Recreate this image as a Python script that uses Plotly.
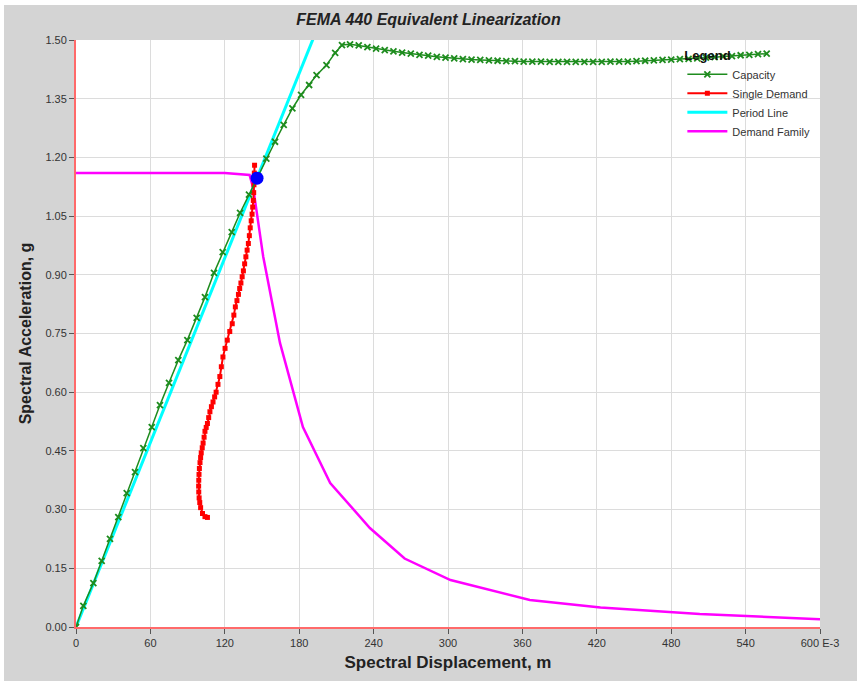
import plotly.graph_objects as go

# ---------------- data ----------------
cap_x = [0, 5.9, 14.0, 20.7, 27.4, 34.1, 40.9, 47.6, 54.3, 61.1, 67.7, 75.0, 82.5, 89.8, 97.3,
         104.0, 111.3, 118.3, 125.6, 132.3, 139.5, 146.5, 153.5, 160.5, 167.5, 174.5, 181.5,
         188, 194, 202, 209, 214.5,
         221, 228, 235, 242, 249, 256, 263, 270, 277, 284, 291, 298, 305, 312, 319, 326, 333,
         340, 347, 354, 361, 368, 375, 382, 389, 396, 403, 410, 417, 424, 431, 438, 445, 452,
         459, 466, 473, 480, 487, 494, 501, 508, 515, 522, 529, 536, 543, 550, 557]
cap_y = [0, 0.054, 0.112, 0.169, 0.225, 0.281, 0.342, 0.396, 0.457, 0.511, 0.567, 0.624, 0.682,
         0.733, 0.790, 0.843, 0.905, 0.958, 1.009, 1.058, 1.105, 1.152, 1.197, 1.240, 1.283,
         1.325, 1.360, 1.385, 1.410, 1.436, 1.467, 1.487,
         1.489, 1.486, 1.482, 1.478, 1.474, 1.471, 1.468, 1.465, 1.462, 1.460, 1.457, 1.455,
         1.453, 1.451, 1.450, 1.449, 1.448, 1.447, 1.446, 1.446, 1.445, 1.445, 1.445, 1.444,
         1.444, 1.444, 1.444, 1.444, 1.444, 1.444, 1.445, 1.445, 1.445, 1.446, 1.447, 1.448,
         1.449, 1.450, 1.451, 1.452, 1.453, 1.455, 1.456, 1.458, 1.459, 1.461, 1.462, 1.464,
         1.465]

sd_x = [106, 104, 102, 100.5, 99.8, 99.3, 99.0, 98.9, 99.0, 99.2, 99.5, 100, 100.5, 101,
        101.8, 102.5, 103.3, 104, 105, 106, 107, 108, 109.2, 110.5, 111.8, 113, 114.5, 116,
        117.2, 118.5, 120.2, 122, 124, 126, 127.3, 128.5, 129.8, 131, 132, 133, 134, 135, 136,
        137, 138, 139, 139.8, 140.5, 141.3, 142, 142.5, 143, 143.3, 143.5, 143.8, 144]
sd_y = [0.280, 0.282, 0.290, 0.305, 0.318, 0.330, 0.345, 0.360, 0.375, 0.390, 0.405, 0.420,
        0.433, 0.445, 0.458, 0.470, 0.485, 0.500, 0.510, 0.520, 0.535, 0.550, 0.563, 0.575,
        0.588, 0.600, 0.620, 0.640, 0.665, 0.690, 0.712, 0.733, 0.755, 0.775, 0.797, 0.818,
        0.834, 0.850, 0.865, 0.879, 0.895, 0.910, 0.928, 0.946, 0.963, 0.980, 1.000, 1.020,
        1.038, 1.055, 1.073, 1.090, 1.110, 1.130, 1.160, 1.180]

per_x = [0, 200]
per_y = [0, 1.572]

fam_x = [0, 120, 140, 143, 151, 164.5, 183, 205, 237, 265, 302, 366, 423, 503, 600]
fam_y = [1.160, 1.160, 1.155, 1.120, 0.946, 0.726, 0.511, 0.368, 0.253, 0.175, 0.120,
         0.069, 0.050, 0.033, 0.020]

pp_x = [146]
pp_y = [1.147]

x_ticks = [0, 60, 120, 180, 240, 300, 360, 420, 480, 540, 600]
x_tick_labels = ["0", "60", "120", "180", "240", "300", "360", "420", "480", "540", "600 E-3"]
y_ticks = [0, 0.15, 0.30, 0.45, 0.60, 0.75, 0.90, 1.05, 1.20, 1.35, 1.50]
y_tick_labels = ["0.00", "0.15", "0.30", "0.45", "0.60", "0.75", "0.90", "1.05", "1.20", "1.35", "1.50"]

# ---------------- figure ----------------
fig = go.Figure()

fig.add_trace(go.Scatter(
    x=fam_x, y=fam_y, mode="lines", name="Demand Family",
    line=dict(color="#ff00ff", width=2.5)))
fig.add_trace(go.Scatter(
    x=per_x, y=per_y, mode="lines", name="Period Line",
    line=dict(color="#00ffff", width=3)))
fig.add_trace(go.Scatter(
    x=sd_x, y=sd_y, mode="lines+markers", name="Single Demand",
    line=dict(color="#ff0000", width=2),
    marker=dict(symbol="square", size=5, color="#ff0000")))
fig.add_trace(go.Scatter(
    x=cap_x, y=cap_y, mode="lines+markers", name="Capacity",
    line=dict(color="#1e8c1e", width=1.5),
    marker=dict(symbol="x-thin", size=6, color="#1e8c1e",
                line=dict(color="#1e8c1e", width=1.8))))
fig.add_trace(go.Scatter(
    x=pp_x, y=pp_y, mode="markers", name="Performance Point", showlegend=False,
    marker=dict(symbol="circle", size=13, color="#0000ff")))

tick_font = dict(family="Liberation Sans Narrow, Liberation Sans, Arial", size=11, color="#333333")

fig.update_layout(
    width=857, height=681,
    margin=dict(l=76, r=37, t=40, b=54),
    paper_bgcolor="#d4d4d4",
    plot_bgcolor="#ffffff",
    title=dict(text="<b><i>FEMA 440 Equivalent Linearization</i></b>",
               x=0.5, xanchor="center", y=0.971, yanchor="middle",
               font=dict(family="Liberation Sans, Arial", size=16, color="#222222")),
    legend=dict(
        title=dict(text="<b>Legend</b>", font=dict(family="Liberation Sans, Arial", size=13, color="#111111")),
        x=0.815, y=0.995, xanchor="left", yanchor="top",
        bgcolor="rgba(0,0,0,0)", borderwidth=0,
        traceorder="reversed",
        font=dict(family="Liberation Sans, Arial", size=11, color="#333333"),
        itemwidth=40, tracegroupgap=0),
    xaxis=dict(
        range=[0, 600], tickvals=x_ticks, ticktext=x_tick_labels,
        showgrid=True, gridcolor="#dcdcdc", gridwidth=1,
        showline=True, linecolor="#ff6a6a", linewidth=2,
        ticks="outside", ticklen=5, tickcolor="#555555",
        tickfont=tick_font, zeroline=False, automargin=False,
        title=dict(text="<b>Spectral Displacement, m</b>", standoff=8,
                   font=dict(family="Liberation Sans Narrow, Liberation Sans, Arial", size=17, color="#222222"))),
    yaxis=dict(
        range=[0, 1.5], tickvals=y_ticks, ticktext=y_tick_labels,
        showgrid=True, gridcolor="#dcdcdc", gridwidth=1,
        showline=True, linecolor="#ff6a6a", linewidth=2,
        ticks="outside", ticklen=5, tickcolor="#555555",
        tickfont=tick_font, zeroline=False, automargin=False,
        title=dict(text="<b>Spectral Acceleration, g</b>", standoff=10,
                   font=dict(family="Liberation Sans, Arial", size=16, color="#222222"))),
    showlegend=True,
)

# white strips at the top and left edge of the page (outside the plot area)
fig.add_shape(type="rect", xref="paper", yref="paper",
              x0=-76/744, x1=1 + 37/744, y0=1 + 35/587, y1=1 + 40/587,
              fillcolor="#ffffff", line_width=0, layer="above")
fig.add_shape(type="rect", xref="paper", yref="paper",
              x0=-76/744, x1=-72/744, y0=-54/587, y1=1 + 40/587,
              fillcolor="#ffffff", line_width=0, layer="above")

fig.write_html("out.html",
               config={"displayModeBar": False},
               post_script="document.body.style.margin='0';document.body.style.overflow='hidden';")
